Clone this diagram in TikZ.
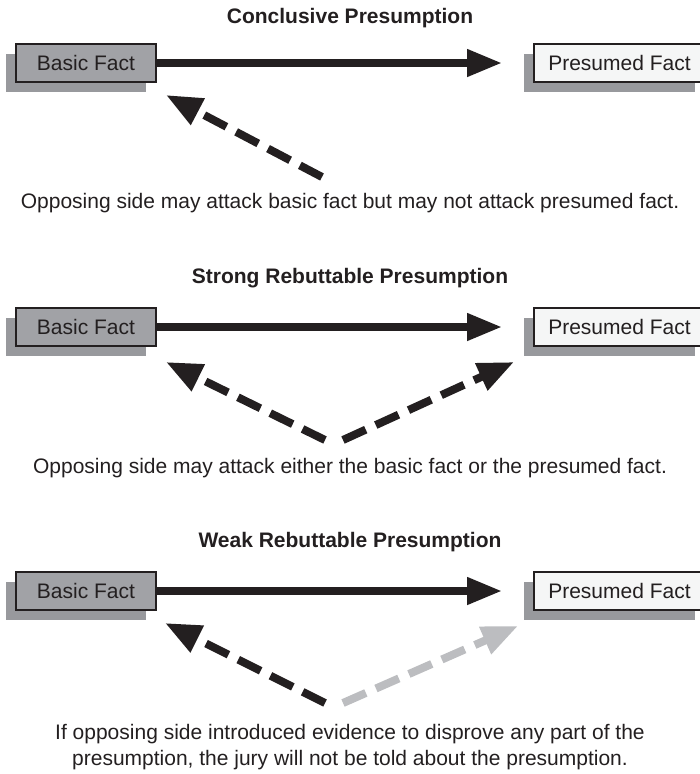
\documentclass[tikz,border=0pt]{standalone}
\usepackage{fontspec}
\setmainfont{Liberation Sans}
\usetikzlibrary{arrows.meta,shadows}

\definecolor{ink}{RGB}{35,31,32}
\definecolor{basicfill}{RGB}{161,162,166}
\definecolor{presfill}{RGB}{245,246,246}
\definecolor{shadowfill}{RGB}{152,153,157}
\definecolor{lightarrow}{RGB}{188,189,192}

\tikzset{
  factbox/.style={draw=ink, line width=2.4pt, minimum height=38pt, inner sep=0pt,
    text=ink, font=\fontsize{21}{24}\selectfont,
    drop shadow={shadow xshift=-10pt, shadow yshift=-10pt, fill=shadowfill, opacity=1}},
  basicbox/.style={factbox, fill=basicfill, minimum width=140pt},
  presbox/.style={factbox, fill=presfill, minimum width=171pt},
  paneltitle/.style={text=ink, font=\bfseries\fontsize{21}{24}\selectfont},
  caption/.style={text=ink, font=\fontsize{21}{26}\selectfont, align=center},
  inference/.style={draw=ink, line width=7.5pt,
    -{Triangle[length=35pt,width=26pt]}},
  attack/.style={draw=ink, line width=8pt, dash pattern=on 25pt off 11pt,
    -{Triangle[length=36pt,width=28pt]}},
  weakattack/.style={attack, draw=lightarrow},
}

\begin{document}
\begin{tikzpicture}[x=1pt,y=-1pt]
\useasboundingbox (0,0) rectangle (700,774);

% --- Conclusive presumption ---
\node[paneltitle] (t1) at (350,18) {Conclusive Presumption};
\node[basicbox] (b1) at (86,63) {Basic Fact};
\node[presbox] (p1) at (619.5,63) {Presumed Fact};
\coordinate (b1tip) at (502,63);
\coordinate (a1s) at (322,177);
\coordinate (a1e) at (166,95);
\draw[inference] (b1.east) -- (b1tip);
\draw[attack] (a1s) -- (a1e);
\node[caption] (c1) at (350,203) {Opposing side may attack basic fact but may not attack presumed fact.};

% --- Strong rebuttable presumption ---
\node[paneltitle] (t2) at (350,278) {Strong Rebuttable Presumption};
\node[basicbox] (b2) at (86,327) {Basic Fact};
\node[presbox] (p2) at (619.5,327) {Presumed Fact};
\coordinate (b2tip) at (502,327);
\coordinate (a2s) at (325,440);
\coordinate (a2e) at (166,362);
\coordinate (a3s) at (343,440);
\coordinate (a3e) at (514,362);
\draw[inference] (b2.east) -- (b2tip);
\draw[attack] (a2s) -- (a2e);
\draw[attack] (a3s) -- (a3e);
\node[caption] (c2) at (350,468) {Opposing side may attack either the basic fact or the presumed fact.};

% --- Weak rebuttable presumption ---
\node[paneltitle] (t3) at (350,542) {Weak Rebuttable Presumption};
\node[basicbox] (b3) at (86,591) {Basic Fact};
\node[presbox] (p3) at (619.5,591) {Presumed Fact};
\coordinate (b3tip) at (502,591);
\coordinate (a4s) at (325,703);
\coordinate (a4e) at (165,623);
\coordinate (a5s) at (343,703);
\coordinate (a5e) at (518,626);
\draw[inference] (b3.east) -- (b3tip);
\draw[attack] (a4s) -- (a4e);
\draw[weakattack] (a5s) -- (a5e);
\node[caption] (c3) at (350,747) {If opposing side introduced evidence to disprove any part of the\\presumption, the jury will not be told about the presumption.};
\end{tikzpicture}
\end{document}
